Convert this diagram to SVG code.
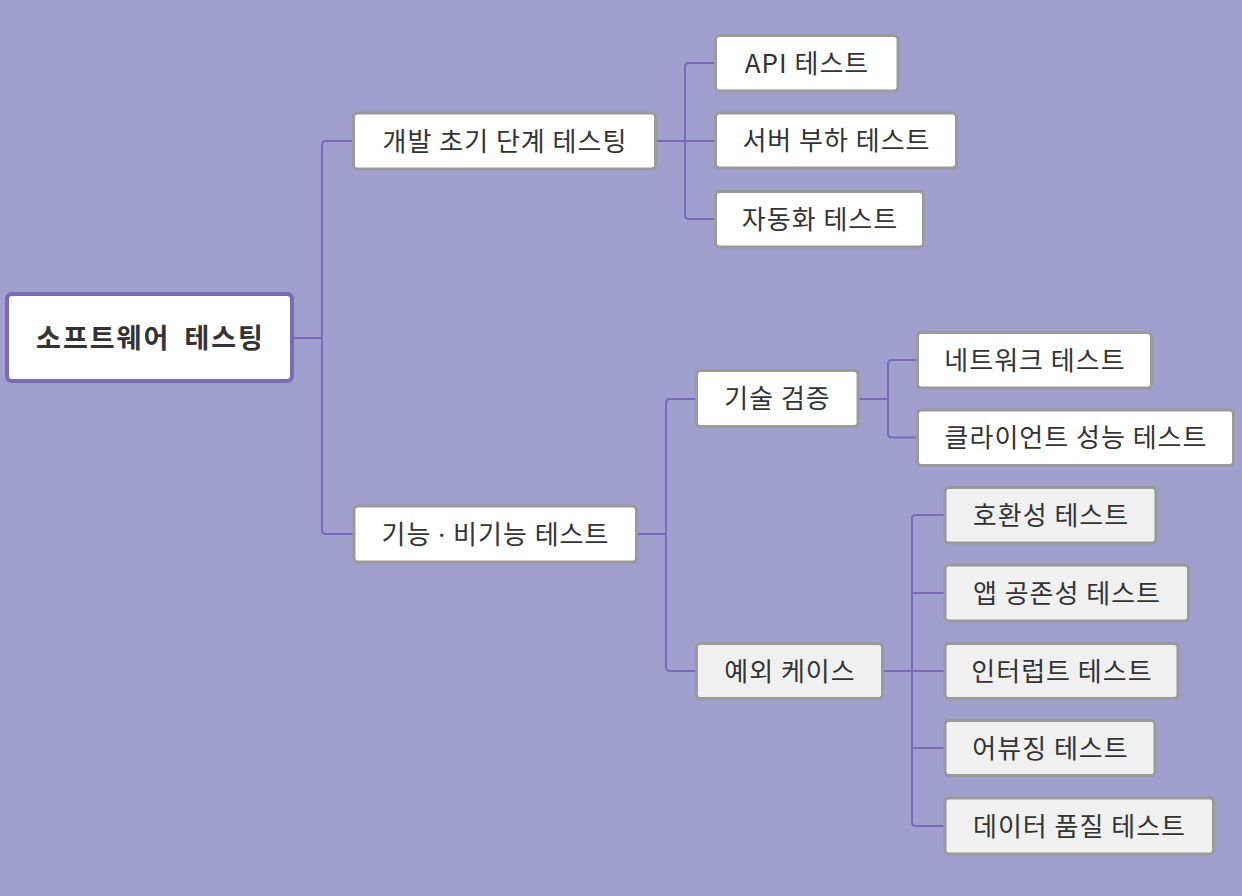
<svg xmlns="http://www.w3.org/2000/svg" width="1242" height="896" viewBox="0 0 1242 896">
<style>
.bg{fill:#a09fce}
.root{fill:#ffffff;stroke:#7b6bb2;stroke-width:4}
.n{fill:#ffffff;stroke:#9a9a9a;stroke-width:3}
.g{fill:#f0f0f0;stroke:#9a9a9a;stroke-width:3}
.t{font-family:"Noto Sans CJK KR","Noto Sans",sans-serif;font-size:26px;letter-spacing:1px;fill:#333333;text-anchor:middle}
.rt{font-family:"Noto Sans CJK KR","Noto Sans",sans-serif;font-size:27px;font-weight:bold;letter-spacing:2px;word-spacing:6px;fill:#333333;text-anchor:middle}
.dot{font-family:"Noto Sans",sans-serif}
.c{fill:none;stroke:#7b6bb7;stroke-width:2}
</style>
<rect class="bg" x="0" y="0" width="1242" height="896"/>
<g id="connectors">
<path class="c" d="M292,338 H322"/>
<path class="c" d="M353,141 H326 Q322,141 322,145 V530 Q322,534 326,534 H353"/>
<path class="c" d="M656,141 H714"/>
<path class="c" d="M714,63 H689 Q685,63 685,67 V215 Q685,219 689,219 H714"/>
<path class="c" d="M637,534 H666"/>
<path class="c" d="M695,399 H670 Q666,399 666,403 V667 Q666,671 670,671 H695"/>
<path class="c" d="M859,399 H888"/>
<path class="c" d="M917,360 H892 Q888,360 888,364 V433.5 Q888,437.5 892,437.5 H917"/>
<path class="c" d="M884,671 H944"/>
<path class="c" d="M944,515 H916 Q912,515 912,519 V822 Q912,826 916,826 H944"/>
<path class="c" d="M912,593 H944"/>
<path class="c" d="M912,748 H944"/>
</g>
<g id="root"><rect class="root" x="7" y="294" width="285" height="87" rx="5"/><text class="rt" x="150.5" y="347.5">소프트웨어 테스팅</text></g>
<g id="n-early"><rect class="n" x="353.5" y="113" width="302" height="56" rx="4"/><text class="t" x="505" y="150.5">개발 초기 단계 테스팅</text></g>
<g id="n-func"><rect class="n" x="354" y="506" width="282.5" height="56" rx="4"/><text class="t" x="495.5" y="543.5">기능 <tspan class="dot">·</tspan> 비기능 테스트</text></g>
<g id="n-tech"><rect class="n" x="696.5" y="370.5" width="161.5" height="56" rx="4"/><text class="t" x="777.5" y="408">기술 검증</text></g>
<g id="n-except"><rect class="g" x="696.5" y="643.5" width="186" height="55" rx="4"/><text class="t" x="790" y="680.5">예외 케이스</text></g>
<g id="n-api"><rect class="n" x="715.5" y="35.5" width="182.5" height="55.5" rx="4"/><text class="t" x="807" y="72.5">API 테스트</text></g>
<g id="n-server"><rect class="n" x="715.5" y="113" width="241" height="55" rx="4"/><text class="t" x="836.5" y="150">서버 부하 테스트</text></g>
<g id="n-auto"><rect class="n" x="715.5" y="191.5" width="208" height="55.5" rx="4"/><text class="t" x="820" y="228.5">자동화 테스트</text></g>
<g id="n-network"><rect class="n" x="917.5" y="332.5" width="234" height="55.5" rx="4"/><text class="t" x="1035" y="369.5">네트워크 테스트</text></g>
<g id="n-client"><rect class="n" x="917.5" y="410" width="316" height="55.5" rx="4"/><text class="t" x="1076" y="447">클라이언트 성능 테스트</text></g>
<g id="n-compat"><rect class="g" x="945" y="487.5" width="211" height="55.5" rx="4"/><text class="t" x="1051" y="524.5">호환성 테스트</text></g>
<g id="n-coexist"><rect class="g" x="945" y="565" width="243.5" height="56" rx="4"/><text class="t" x="1067" y="602.5">앱 공존성 테스트</text></g>
<g id="n-interrupt"><rect class="g" x="945" y="643.5" width="233" height="55" rx="4"/><text class="t" x="1062" y="680.5">인터럽트 테스트</text></g>
<g id="n-abuse"><rect class="g" x="945" y="720.5" width="210" height="55" rx="4"/><text class="t" x="1050.5" y="757.5">어뷰징 테스트</text></g>
<g id="n-data"><rect class="g" x="945" y="798" width="268.5" height="56" rx="4"/><text class="t" x="1079.5" y="835.5">데이터 품질 테스트</text></g>
</svg>
